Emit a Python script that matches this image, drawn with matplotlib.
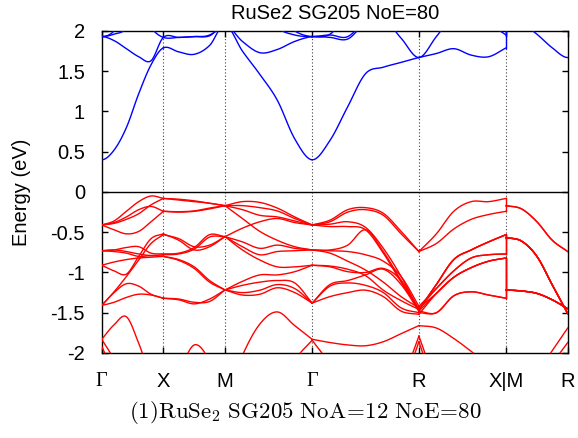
import numpy as np
import matplotlib.pyplot as plt

plt.rcParams['font.family'] = ['Liberation Sans', 'DejaVu Sans']
plt.rcParams['mathtext.fontset'] = 'cm'

nan = np.nan

# k-path Gamma-X-M-Gamma-R-X|M-R, segment lengths in 2pi/a and number of read steps
seg_len = [0.5, 0.5, 0.7071, 0.8660, 0.7071, 0.5]
seg_steps = [5, 4, 5, 6, 5, 4]
tick_labels = ['Γ', 'X', 'M', 'Γ', 'R', 'X|M', 'R']

# conduction bands (eV), 31 read points along the path
cond = [
    [0.40, 0.52, 0.80, 1.22, 1.58, 1.79,
     1.74, 1.71, 1.82, 2.08,
     1.75, 1.46, 1.14, 0.66, 0.40,
     0.64, 1.06, 1.47, 1.55, 1.61, 1.67,
     1.72, 1.78, 1.70, 1.68, 1.79,
     2.20, 2.10, 1.96, 1.79, 1.67],
    [1.93, 1.88, 1.78, 1.68, 1.63, 1.92,
     1.92, 1.93, 1.94, 2.08,
     1.87, 1.73, 1.77, 1.87, 1.93,
     1.92, 1.90, 2.10, 2.15, 1.91, 1.67,
     1.93, 2.20, 2.30, 2.10, 1.95,
     2.30, 2.40, 2.40, 2.40, 2.40],
    [1.93, 1.96, 2.03, 2.30, 2.04, 1.92,
     1.92, 1.93, 1.95, 2.10,
     2.40, 2.30, 2.04, 1.95, 1.93,
     1.95, 1.93, 2.15, 2.40, 2.40, 2.40,
     2.40, 2.40, 2.40, 2.40, 2.40,
     2.40, 2.40, 2.40, 2.40, 2.40],
    [1.93, 2.00, 2.25, 2.40, 2.40, 2.40,
     2.40, 2.40, 2.40, 2.40,
     2.40, 2.40, 2.20, 2.00, 1.93,
     1.96, 2.20, 2.40, 2.40, 2.40, 2.40,
     2.40, 2.40, 2.40, 2.40, 2.40,
     2.40, 2.40, 2.40, 2.40, 2.40],
]

# valence bands (eV)
val = [
    [-0.41, -0.36, -0.24, -0.12, -0.05, -0.08,
     -0.10, -0.12, -0.14, -0.17,
     -0.12, -0.13, -0.20, -0.31, -0.41,
     -0.35, -0.22, -0.195, -0.265, -0.49, -0.74,
     -0.52, -0.24, -0.12, -0.12, -0.08,
     -0.17, -0.21, -0.37, -0.60, -0.74],
    [-0.41, -0.38, -0.31, -0.22, -0.18, -0.24,
     -0.245, -0.235, -0.20, -0.17,
     -0.17, -0.195, -0.236, -0.33, -0.41,
     -0.37, -0.25, -0.22, -0.29, -0.52, -0.74,
     -0.64, -0.46, -0.34, -0.28, -0.24,
     -0.17, -0.21, -0.37, -0.60, -0.74],
    [-0.41, -0.39, -0.34, -0.27, -0.16, -0.08,
     -0.09, -0.11, -0.14, -0.17,
     -0.22, -0.29, -0.31, -0.36, -0.41,
     -0.40, -0.37, -0.44, -0.70, -1.05, -1.47,
     -1.15, -0.84, -0.72, -0.62, -0.53,
     -0.567, -0.61, -0.80, -1.155, -1.51],
    [-0.41, -0.47, -0.52, -0.49, -0.37, -0.24,
     -0.25, -0.24, -0.21, -0.17,
     -0.33, -0.49, -0.60, -0.68, -0.72,
     -0.72, -0.66, -0.47, -0.74, -1.10, -1.45,
     -1.20, -0.98, -0.82, -0.78, -0.77,
     -0.567, -0.61, -0.80, -1.155, -1.51],
    [-0.73, -0.72, -0.69, -0.68, -0.76, -0.77,
     -0.76, -0.69, -0.53, -0.555,
     -0.45, -0.37, -0.33, -0.38, -0.41,
     -0.43, -0.43, -0.47, -0.76, -1.12, -1.46,
     -1.15, -0.84, -0.72, -0.62, -0.53,
     -0.567, -0.61, -0.80, -1.155, -1.51],
    [-0.73, -0.74, -0.76, -0.80, -0.79, -0.80,
     -0.84, -0.93, -1.10, -1.217,
     -1.11, -1.03, -1.03, -0.99, -0.91,
     -0.93, -0.99, -1.00, -0.95, -1.10, -1.48,
     -1.26, -1.06, -0.94, -0.86, -0.82,
     -1.217, -1.23, -1.26, -1.34, -1.45],
    [-0.73, -0.72, -0.74, -0.77, -0.79, -0.78,
     -0.77, -0.71, -0.56, -0.555,
     -0.62, -0.70, -0.66, -0.70, -0.72,
     -0.73, -0.74, -0.78, -0.86, -1.05, -1.42,
     -1.20, -0.98, -0.82, -0.78, -0.77,
     -0.567, -0.61, -0.80, -1.155, -1.51],
    [-0.91, -0.98, -1.02, -0.80, -0.58, -0.52,
     -0.60, -0.72, -0.68, -0.555,
     -0.68, -0.78, -0.74, -0.73, -0.72,
     -0.76, -0.86, -0.97, -1.12, -1.30, -1.44,
     -1.26, -1.06, -0.94, -0.86, -0.82,
     -1.217, -1.23, -1.26, -1.34, -1.45],
    [-0.91, -0.87, -0.84, -0.82, -0.81, -0.80,
     -0.85, -0.95, -1.12, -1.217,
     -1.16, -1.12, -1.10, -1.13, -1.38,
     -1.15, -1.10, -1.03, -0.96, -1.15, -1.48,
     -1.50, -1.29, -1.24, -1.28, -1.32,
     -1.217, -1.23, -1.26, -1.34, -1.45],
    [-1.41, -1.24, -1.05, -0.845, -0.64, -0.53,
     -0.58, -0.68, -0.66, -0.555,
     -0.72, -0.845, -0.93, -0.93, -0.91,
     -0.92, -0.96, -1.04, -1.22, -1.35, -1.46,
     -1.15, -0.84, -0.72, -0.62, -0.53,
     -0.567, -0.61, -0.80, -1.155, -1.51],
    [-1.41, -1.25, -1.14, -1.17, -1.27, -1.32,
     -1.34, -1.39, -1.33, -1.217,
     -1.25, -1.22, -1.15, -1.20, -1.38,
     -1.17, -1.13, -1.16, -1.25, -1.44, -1.50,
     -1.50, -1.29, -1.24, -1.28, -1.32,
     -1.217, -1.23, -1.26, -1.34, -1.45],
    [-1.41, -1.37, -1.31, -1.27, -1.28, -1.32,
     -1.33, -1.37, -1.36, -1.217,
     -1.28, -1.27, -1.19, -1.25, -1.38,
     -1.30, -1.25, -1.22, -1.30, -1.48, -1.52,
     -1.26, -1.06, -0.94, -0.86, -0.82,
     -1.217, -1.23, -1.26, -1.34, -1.45],
    # deeper bands, only partly inside the window
    [-1.83, -1.65, -1.55, -1.88, -2.30, -2.60,
     nan, nan, nan, nan,
     nan, nan, nan, nan, nan,
     nan, nan, nan, nan, nan, nan,
     nan, nan, nan, nan, nan,
     nan, nan, nan, nan, nan],
    [nan, nan, nan, nan, nan, nan,
     nan, nan, nan, -2.60,
     -2.03, -1.64, -1.49, -1.66, -1.83,
     -1.87, -1.90, -1.91, -1.86, -1.76, -1.66,
     -1.69, -1.82, -1.98, -2.15, -2.30,
     -2.60, -2.45, -2.25, -1.97, -1.69],
    [-1.83, -2.08, -2.40, nan, nan, nan,
     nan, nan, nan, nan,
     nan, nan, nan, nan, nan,
     nan, nan, nan, nan, nan, nan,
     nan, nan, nan, nan, nan,
     nan, nan, nan, nan, nan],
    [-1.92, -2.25, -2.60, nan, nan, nan,
     nan, nan, nan, nan,
     nan, nan, nan, nan, nan,
     nan, nan, nan, nan, nan, nan,
     nan, nan, nan, nan, nan,
     nan, nan, nan, nan, nan],
    [nan, nan, nan, nan, nan, -2.60,
     -2.25, -1.90, -2.10, -2.60,
     nan, nan, nan, nan, nan,
     nan, nan, nan, nan, nan, nan,
     nan, nan, nan, nan, nan,
     nan, nan, nan, nan, nan],
    [nan, nan, nan, nan, nan, nan,
     nan, nan, nan, nan,
     nan, nan, -2.60, -2.10, -1.84,
     -2.15, -2.60, nan, nan, nan, nan,
     nan, nan, nan, nan, nan,
     nan, nan, nan, nan, nan],
    [nan, nan, nan, nan, nan, nan,
     nan, nan, nan, nan,
     nan, nan, nan, nan, nan,
     nan, nan, nan, nan, -2.40, -1.79,
     -2.40, nan, nan, nan, nan,
     nan, nan, nan, nan, nan],
    [nan, nan, nan, nan, nan, nan,
     nan, nan, nan, nan,
     nan, nan, nan, nan, nan,
     nan, nan, nan, nan, -2.50, -1.86,
     -2.50, nan, nan, nan, nan,
     nan, nan, nan, nan, nan],
    [nan, nan, nan, nan, nan, nan,
     nan, nan, nan, nan,
     nan, nan, nan, nan, nan,
     nan, nan, nan, nan, nan, nan,
     nan, nan, nan, nan, nan,
     nan, nan, -2.60, -2.15, -1.87],
]

# build the k grid (M sits at the same place as X)
kgrid = [0.0]
ticks = [0.0]
start = 0.0
for i, (L, n) in enumerate(zip(seg_len, seg_steps)):
    if i == 5:
        kgrid.append(start)
    kgrid.extend(start + L * np.arange(1, n + 1) / n)
    start += L
    ticks.append(start)
kgrid = np.array(kgrid)
segs = [(0, 5), (5, 9), (9, 14), (14, 20), (20, 25), (26, 30)]


def hermite(x, y, m, n=14):
    xs, ys = [], []
    for i in range(len(x) - 1):
        h = x[i + 1] - x[i]
        t = np.linspace(0, 1, n)
        h00 = 2 * t**3 - 3 * t**2 + 1
        h10 = t**3 - 2 * t**2 + t
        h01 = -2 * t**3 + 3 * t**2
        h11 = t**3 - t**2
        xs.append(x[i] + t * h)
        ys.append(h00 * y[i] + h10 * h * m[i] + h01 * y[i + 1] + h11 * h * m[i + 1])
    return np.concatenate(xs), np.concatenate(ys)


def draw(ax, band, color, rounded=False):
    e = np.asarray(band, float)
    for a, b in segs:
        kk = kgrid[a:b + 1]
        ee = e[a:b + 1]
        idx = np.where(~np.isnan(ee))[0]
        if len(idx) < 2:
            continue
        for r in np.split(idx, np.where(np.diff(idx) > 1)[0] + 1):
            if len(r) < 2:
                continue
            x, y = kk[r], ee[r]
            m = np.gradient(y, x)
            if rounded and len(r) == b - a + 1:
                # tangent through the symmetry point from both neighbours
                for j, g in ((0, a), (-1, b)):
                    lo, hi = g - 1, g + 1
                    if g == 26:
                        lo = -1
                    if g == 25:
                        hi = 99
                    if 0 <= lo and hi <= 30 and not np.isnan(e[lo]) and not np.isnan(e[hi]):
                        m[j] = (e[hi] - e[lo]) / (kgrid[hi] - kgrid[lo])
                    elif g in (0, 30):
                        m[j] = 0.0
            xs, ys = hermite(x, y, m)
            ax.plot(xs, ys, color=color, lw=1.0, zorder=3)
    if not (np.isnan(e[25]) or np.isnan(e[26])):
        ax.plot([kgrid[25], kgrid[26]], [e[25], e[26]], color=color, lw=1.0, zorder=3)


fig = plt.figure(figsize=(5.78, 4.38), dpi=100)
ax = fig.add_axes([0.176, 0.1941, 0.8062, 0.7352])

for x in ticks[1:-1]:
    ax.axvline(x, color='0.25', lw=0.8, ls=(0, (1, 2)), zorder=1)
ax.axhline(0, color='black', lw=1.0, zorder=2)

for band in cond:
    draw(ax, band, '#0000ff', rounded=True)
for band in val:
    draw(ax, band, '#ff0000')

ax.set_xlim(0, ticks[-1])
ax.set_ylim(-2, 2)
ax.set_xticks(ticks)
ax.set_xticklabels(tick_labels)
for lab in ax.get_xticklabels():
    if lab.get_text() == 'Γ':
        lab.set_family('Liberation Serif')
yt = [-2, -1.5, -1, -0.5, 0, 0.5, 1, 1.5, 2]
ax.set_yticks(yt)
ax.set_yticklabels(['-2', '-1.5', '-1', '-0.5', '0', '0.5', '1', '1.5', '2'])
ax.tick_params(axis='both', direction='in', length=4, width=1,
               top=True, right=True, labelsize=14.5)
ax.tick_params(axis='y', pad=12)
ax.tick_params(axis='x', pad=14)
for s in ax.spines.values():
    s.set_linewidth(1.0)

fig.text(22 / 578, 1 - 192 / 438, 'Energy (eV)', rotation=90,
         ha='center', va='center', fontsize=14.5)
fig.text(334.7 / 578, 1 - 13.5 / 438, 'RuSe2 SG205 NoE=80',
         ha='center', va='center', fontsize=14.5)
fig.text(305 / 578, 1 - 413 / 438,
         r'$\mathrm{(1)RuSe_2\ SG205\ NoA\!=\!12\ NoE\!=\!80}$',
         ha='center', va='center', fontsize=16.5)

fig.savefig('out.png', dpi=100)
